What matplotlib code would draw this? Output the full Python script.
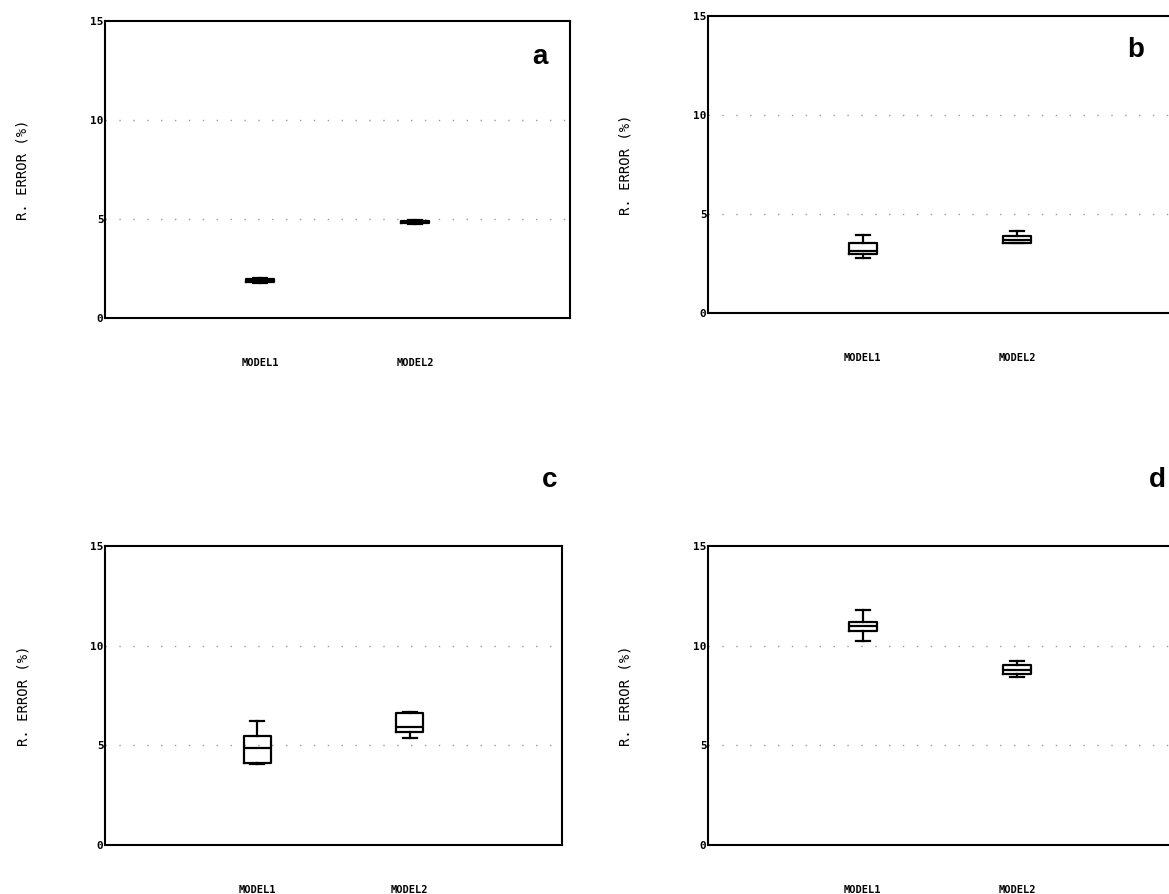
import matplotlib
matplotlib.use("Agg")
import matplotlib.pyplot as plt

# box statistics, one list per panel: [MODEL1, MODEL2]
models = ["MODEL1", "MODEL2"]

a_whislo = [1.75, 4.75]
a_q1 = [1.80, 4.78]
a_med = [1.88, 4.85]
a_q3 = [1.95, 4.92]
a_whishi = [2.00, 4.95]

b_whislo = [2.78, 3.52]
b_q1 = [2.98, 3.54]
b_med = [3.15, 3.70]
b_q3 = [3.54, 3.89]
b_whishi = [3.94, 4.14]

c_whislo = [4.05, 5.35]
c_q1 = [4.10, 5.65]
c_med = [4.85, 5.90]
c_q3 = [5.45, 6.60]
c_whishi = [6.20, 6.65]

d_whislo = [10.25, 8.45]
d_q1 = [10.75, 8.60]
d_med = [11.00, 8.80]
d_q3 = [11.20, 9.05]
d_whishi = [11.80, 9.25]

yticks = [0, 5, 10, 15]
ylabel = "R. ERROR (%)"

fig = plt.figure(figsize=(11.69, 8.94), dpi=100)

# axes placed in pixels of the 1169x894 page: (left, top, right, bottom)
boxes_px = {
    "a": (105, 21, 570, 318),
    "b": (708, 16, 1172, 313),
    "c": (105, 546, 562, 845),
    "d": (708, 546, 1172, 845),
}
panels = {
    "a": (a_whislo, a_q1, a_med, a_q3, a_whishi),
    "b": (b_whislo, b_q1, b_med, b_q3, b_whishi),
    "c": (c_whislo, c_q1, c_med, c_q3, c_whishi),
    "d": (d_whislo, d_q1, d_med, d_q3, d_whishi),
}

W, H = 1169, 894
mono = "DejaVu Sans Mono"

for key, (l, t, r, b) in boxes_px.items():
    ax = fig.add_axes([l / W, 1 - b / H, (r - l) / W, (b - t) / H])
    lo, q1, med, q3, hi = panels[key]
    stats = []
    for i in range(len(models)):
        stats.append(dict(whislo=lo[i], q1=q1[i], med=med[i], q3=q3[i],
                          whishi=hi[i], fliers=[]))
    # dotted reference lines at 5 and 10
    for yv in yticks[1:3]:
        ax.axhline(yv, color="#999999", lw=1.0, ls=(0, (1, 9)), zorder=0)
    lw = 1.6
    ax.bxp(stats, positions=[1, 2], widths=0.18, showfliers=False,
           boxprops=dict(color="black", lw=lw),
           medianprops=dict(color="black", lw=lw),
           whiskerprops=dict(color="black", lw=lw),
           capprops=dict(color="black", lw=lw),
           capwidths=0.09)
    ax.set_xlim(0, 3)
    ax.set_ylim(0, 15)
    ax.set_yticks(yticks)
    ax.set_yticklabels([str(v) for v in yticks], fontsize=8,
                       fontweight="bold", family=mono)
    ax.tick_params(axis="y", length=0, pad=1)
    ax.set_xticks([])
    for s in ax.spines.values():
        s.set_linewidth(1.5)
    # model names sit well below the frame
    for i, name in enumerate(models):
        ax.text(i + 1, -0.15, name, transform=ax.get_xaxis_transform(),
                ha="center", va="center", fontsize=7.5, fontweight="bold",
                family=mono)
    ax.text(-0.178, 0.5, ylabel, transform=ax.transAxes, rotation=90,
            ha="center", va="center", fontsize=10, family=mono)

# panel letters
fig.text(540 / W, 1 - 57 / H, "a", fontsize=20, fontweight="bold",
         family="Liberation Sans", ha="center", va="center")
fig.text(1136 / W, 1 - 50 / H, "b", fontsize=20, fontweight="bold",
         family="Liberation Sans", ha="center", va="center")
fig.text(550 / W, 1 - 480 / H, "c", fontsize=20, fontweight="bold",
         family="Liberation Sans", ha="center", va="center")
fig.text(1157 / W, 1 - 480 / H, "d", fontsize=20, fontweight="bold",
         family="Liberation Sans", ha="center", va="center")

fig.savefig("out.png", dpi=100)
